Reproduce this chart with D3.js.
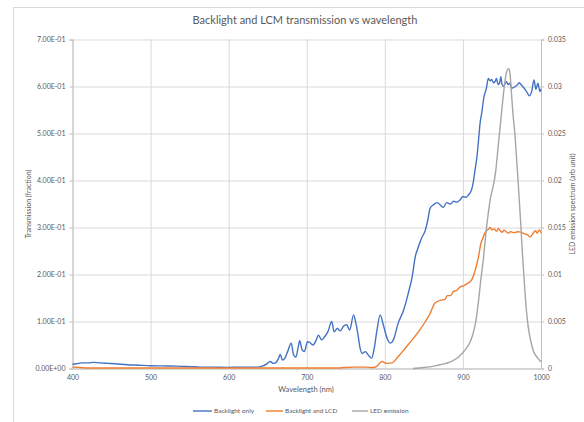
<!DOCTYPE html>
<html>
<head>
<meta charset="utf-8">
<script src="https://cdn.jsdelivr.net/npm/d3@7/dist/d3.min.js"></script>
<style>
  html, body { margin: 0; padding: 0; background: #ffffff; }
  svg { display: block; font-family: Lato, "Open Sans", "Liberation Sans", sans-serif; }
</style>
</head>
<body>
<svg id="chart" width="584" height="422"></svg>
<script>
// Wavelength ticks and axis ticks
const xTicks = [400, 500, 600, 700, 800, 900, 1000];
const xTickLabels = ["400", "500", "600", "700", "800", "900", "1000"];
const leftTicks = [0, 0.1, 0.2, 0.3, 0.4, 0.5, 0.6, 0.7];
const leftTickLabels = ["0.00E+00", "1.00E-01", "2.00E-01", "3.00E-01", "4.00E-01", "5.00E-01", "6.00E-01", "7.00E-01"];
const rightTicks = [0, 0.005, 0.01, 0.015, 0.02, 0.025, 0.03, 0.035];
const rightTickLabels = ["0", "0.005", "0.01", "0.015", "0.02", "0.025", "0.03", "0.035"];
const seriesNames = ["Backlight only", "Backlight and LCD", "LED emission"];

// Backlight only (transmission, left axis)
const backlightWl = [400, 405, 412, 420, 427, 435, 445, 455, 470, 485, 500, 515, 534, 550, 564, 580, 598, 615, 636, 643, 649, 653, 657, 660, 664, 666, 669, 672, 676, 680, 683, 686, 689, 691, 694, 697, 701, 704, 708, 712, 715, 719, 723, 727, 732, 735, 739, 743, 747, 751, 755, 760, 763, 766, 768, 771, 775, 779, 783, 786, 790, 794, 798, 803, 807, 811, 817, 824, 830, 835, 839, 843, 847, 852, 855, 858, 862, 867, 871, 875, 879, 884, 888, 892, 896, 900, 904, 907, 911, 913, 915.5, 918, 920, 922, 924, 927, 930, 932.5, 935, 937, 939, 941, 943, 945, 947, 948.5, 950, 952, 954, 956, 958, 960, 962.5, 965, 967, 970, 972, 975, 978, 980, 983, 985, 988, 991, 993.5, 996, 998.7, 1000];
const backlightVal = [0.009, 0.010, 0.012, 0.012, 0.013, 0.012, 0.011, 0.010, 0.008, 0.007, 0.006, 0.0055, 0.005, 0.004, 0.003, 0.003, 0.0025, 0.003, 0.003, 0.005, 0.010, 0.015, 0.011, 0.012, 0.022, 0.030, 0.018, 0.022, 0.038, 0.054, 0.030, 0.024, 0.045, 0.059, 0.040, 0.036, 0.057, 0.055, 0.050, 0.060, 0.071, 0.061, 0.068, 0.078, 0.100, 0.078, 0.085, 0.080, 0.090, 0.093, 0.082, 0.114, 0.096, 0.068, 0.046, 0.032, 0.036, 0.028, 0.022, 0.039, 0.082, 0.114, 0.093, 0.064, 0.054, 0.061, 0.096, 0.124, 0.160, 0.195, 0.238, 0.259, 0.277, 0.295, 0.316, 0.341, 0.348, 0.353, 0.348, 0.343, 0.353, 0.350, 0.356, 0.354, 0.358, 0.366, 0.364, 0.369, 0.380, 0.394, 0.422, 0.451, 0.486, 0.522, 0.543, 0.578, 0.596, 0.617, 0.612, 0.615, 0.608, 0.610, 0.617, 0.604, 0.607, 0.621, 0.605, 0.600, 0.606, 0.610, 0.604, 0.607, 0.596, 0.598, 0.600, 0.604, 0.608, 0.603, 0.597, 0.593, 0.585, 0.580, 0.589, 0.614, 0.594, 0.607, 0.589, 0.595];

// Backlight and LCD (transmission, left axis)
const lcdWl = [400, 410, 420, 500, 600, 700, 740, 748, 760, 775, 785, 790, 796, 802, 809, 817, 826, 835, 843, 852, 858, 864, 871, 877, 880, 884, 888, 892, 896, 901, 905, 911, 913, 917, 920, 923, 925.5, 928, 932.5, 935, 937, 940, 943, 945.5, 948, 950, 953, 956, 958, 961, 965, 968, 971, 974, 977, 980, 983, 986, 988, 990, 993, 995, 998, 1000];
const lcdVal = [0.003, 0.002, 0.001, 0.001, 0.001, 0.001, 0.001, 0.002, 0.003, 0.003, 0.002, 0.005, 0.015, 0.011, 0.012, 0.025, 0.043, 0.061, 0.078, 0.100, 0.117, 0.139, 0.145, 0.147, 0.155, 0.155, 0.164, 0.166, 0.173, 0.176, 0.180, 0.188, 0.195, 0.217, 0.238, 0.266, 0.277, 0.288, 0.296, 0.300, 0.295, 0.297, 0.292, 0.298, 0.293, 0.290, 0.294, 0.290, 0.288, 0.291, 0.289, 0.290, 0.291, 0.290, 0.288, 0.286, 0.284, 0.280, 0.283, 0.288, 0.293, 0.288, 0.295, 0.288];

// LED emission spectrum (arbitrary unit, right axis)
const ledWl = [836, 850, 866, 871, 884, 894, 903, 909, 913, 916.5, 920, 923, 926, 929, 932, 935, 939, 942, 945, 948, 951, 953, 955.5, 957, 959, 960.5, 962, 964, 966.5, 969, 971, 974, 976, 978, 980, 982.5, 985, 988, 991, 995, 998, 1000];
const ledVal = [0.0, 0.0001, 0.0003, 0.0004, 0.0007, 0.0012, 0.0020, 0.0028, 0.0037, 0.0050, 0.0072, 0.0095, 0.0115, 0.0140, 0.0162, 0.0180, 0.0195, 0.0210, 0.0235, 0.0260, 0.0285, 0.0300, 0.0314, 0.0318, 0.0319, 0.0312, 0.0295, 0.0272, 0.0250, 0.0220, 0.0195, 0.0155, 0.0125, 0.0100, 0.0075, 0.0052, 0.0037, 0.0025, 0.0017, 0.0012, 0.0009, 0.0007];

const colors = ["#4472C4", "#ED7D31", "#A5A5A5"];
const textColor = "#595959";
const gridColor = "#d9d9d9";

const svg = d3.select("#chart");
const plot = { left: 72.5, right: 541, top: 39.5, bottom: 368.5 };

const x = d3.scaleLinear().domain([400, 1000]).range([plot.left, plot.right]);
const yL = d3.scaleLinear().domain([0, 0.7]).range([plot.bottom, plot.top]);
const yR = d3.scaleLinear().domain([0, 0.035]).range([plot.bottom, plot.top]);

// chart area border
svg.append("rect")
  .attr("x", 13.5).attr("y", 7.5).attr("width", 620).attr("height", 500)
  .attr("fill", "#ffffff").attr("stroke", gridColor).attr("stroke-width", 1);

// title
svg.append("text")
  .attr("x", 305).attr("y", 24)
  .attr("text-anchor", "middle")
  .attr("font-size", 11)
  .attr("fill", textColor)
  .text("Backlight and LCM transmission vs wavelength");

// horizontal gridlines
svg.append("g")
  .attr("transform", `translate(${plot.left},0)`)
  .call(d3.axisLeft(yL).tickValues(leftTicks).tickSize(-(plot.right - plot.left)).tickFormat(""))
  .call(g => g.select(".domain").remove())
  .call(g => g.selectAll("line").attr("stroke", gridColor));

// vertical gridlines
svg.append("g")
  .attr("transform", `translate(0,${plot.bottom})`)
  .call(d3.axisBottom(x).tickValues(xTicks).tickSize(-(plot.bottom - plot.top)).tickFormat(""))
  .call(g => g.select(".domain").remove())
  .call(g => g.selectAll("line").attr("stroke", gridColor));

// left axis labels
const leftAxis = svg.append("g")
  .attr("transform", `translate(${plot.left},0)`)
  .call(d3.axisLeft(yL).tickValues(leftTicks).tickSize(3).tickPadding(4)
    .tickFormat((d, i) => leftTickLabels[i]));
leftAxis.select(".domain").attr("stroke", "#bfbfbf");
leftAxis.selectAll("line").attr("stroke", "#bfbfbf");
leftAxis.selectAll("text").attr("fill", textColor).attr("font-size", 7).attr("font-family", "Lato, sans-serif");

// right axis labels
const rightAxis = svg.append("g")
  .attr("transform", `translate(${plot.right},0)`)
  .call(d3.axisRight(yR).tickValues(rightTicks).tickSize(3).tickPadding(4)
    .tickFormat((d, i) => rightTickLabels[i]));
rightAxis.select(".domain").attr("stroke", "#bfbfbf");
rightAxis.selectAll("line").attr("stroke", "#bfbfbf");
rightAxis.selectAll("text").attr("fill", textColor).attr("font-size", 7).attr("font-family", "Lato, sans-serif");

// bottom axis labels
const bottomAxis = svg.append("g")
  .attr("transform", `translate(0,${plot.bottom})`)
  .call(d3.axisBottom(x).tickValues(xTicks).tickSize(0).tickPadding(7)
    .tickFormat((d, i) => xTickLabels[i]));
bottomAxis.select(".domain").attr("stroke", "#bfbfbf");
bottomAxis.selectAll("text").attr("fill", textColor).attr("font-size", 7).attr("font-family", "Lato, sans-serif");

// axis titles
svg.append("text")
  .attr("transform", `translate(31,${(plot.top + plot.bottom) / 2}) rotate(-90)`)
  .attr("text-anchor", "middle").attr("font-size", 7).attr("fill", textColor)
  .text("Transmission (fraction)");
svg.append("text")
  .attr("transform", `translate(575,${(plot.top + plot.bottom) / 2}) rotate(-90)`)
  .attr("text-anchor", "middle").attr("font-size", 7).attr("fill", textColor)
  .text("LED emission spectrum (arb unit)");
svg.append("text")
  .attr("x", 306).attr("y", 392)
  .attr("text-anchor", "middle").attr("font-size", 7.5).attr("fill", textColor)
  .text("Wavelength (nm)");

// series lines
const series = [
  { wl: backlightWl, val: backlightVal, y: yL },
  { wl: lcdWl, val: lcdVal, y: yL },
  { wl: ledWl, val: ledVal, y: yR }
];
series.forEach((s, i) => {
  const pts = s.wl.map((w, k) => [w, s.val[k]]);
  const line = d3.line().x(d => x(d[0])).y(d => s.y(d[1])).curve(d3.curveMonotoneX);
  svg.append("path")
    .datum(pts)
    .attr("fill", "none")
    .attr("stroke", colors[i])
    .attr("stroke-width", 1.4)
    .attr("stroke-linejoin", "round")
    .attr("d", line);
});

// legend
const legendItems = [
  { x0: 193, tx: 214 },
  { x0: 266, tx: 285 },
  { x0: 352, tx: 370 }
];
const legend = svg.append("g");
legendItems.forEach((it, i) => {
  legend.append("line")
    .attr("x1", it.x0).attr("x2", it.tx - 2)
    .attr("y1", 411).attr("y2", 411)
    .attr("stroke", colors[i]).attr("stroke-width", 1.4);
  legend.append("text")
    .attr("x", it.tx).attr("y", 413.3)
    .attr("font-size", 6.5).attr("fill", textColor)
    .text(seriesNames[i]);
});
</script>
</body>
</html>
